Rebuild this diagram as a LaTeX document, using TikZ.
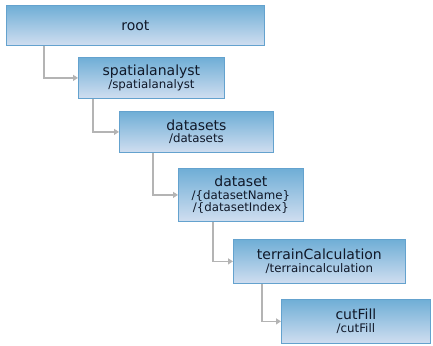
\documentclass[tikz,border=0pt]{standalone}
\usepackage{fontspec}
\setmainfont{DejaVu Sans}
\usetikzlibrary{arrows.meta}

\definecolor{boxtop}{HTML}{6FAED6}
\definecolor{boxbottom}{HTML}{D0DEF0}
\definecolor{boxline}{HTML}{64A2CE}
\definecolor{linkgray}{HTML}{B4B4B4}
\definecolor{labeltext}{HTML}{101828}

\tikzset{
    resource/.style={draw=boxline, line width=0.8pt, top color=boxtop, bottom color=boxbottom,
        anchor=north west, inner sep=0pt, align=center, text=labeltext,
        font=\fontsize{14}{15}\selectfont},
    link/.style={draw=linkgray, line width=1.5pt, -{Triangle[length=5pt, width=6pt]}},
}
\newcommand{\respath}[1]{\\[-2.5pt]{\fontsize{11.8}{12.5}\selectfont #1}}

\begin{document}
\begin{tikzpicture}[x=1pt, y=-1pt]

    % Picture size
    \useasboundingbox (0,0) rectangle (433,345);

    % Resource boxes
    \node[resource, minimum width=258pt, minimum height=40pt] (root) at (6,5) {root};
    \node[resource, minimum width=146pt, minimum height=41pt] (spatial) at (78,57)
        {spatialanalyst\respath{/spatialanalyst}};
    \node[resource, minimum width=154pt, minimum height=41pt] (datasets) at (119,111)
        {datasets\respath{/datasets}};
    \node[resource, minimum width=125pt, minimum height=53pt] (dataset) at (178,168)
        {dataset\respath{/\{datasetName\}}\respath{/\{datasetIndex\}}};
    \node[resource, minimum width=172pt, minimum height=44pt] (terrain) at (233,239)
        {terrainCalculation\respath{/terraincalculation}};
    \node[resource, minimum width=149pt, minimum height=44pt] (cutfill) at (281,299)
        {cutFill\respath{/cutFill}};

    % Links from parent to child
    \draw[link] ([xshift=38pt]root.south west) |- (spatial.west);
    \draw[link] ([xshift=15pt]spatial.south west) |- (datasets.west);
    \draw[link] ([xshift=34pt]datasets.south west) |- (dataset.west);
    \draw[link] ([xshift=35pt]dataset.south west) |- (terrain.west);
    \draw[link] ([xshift=29pt]terrain.south west) |- (cutfill.west);

\end{tikzpicture}
\end{document}
